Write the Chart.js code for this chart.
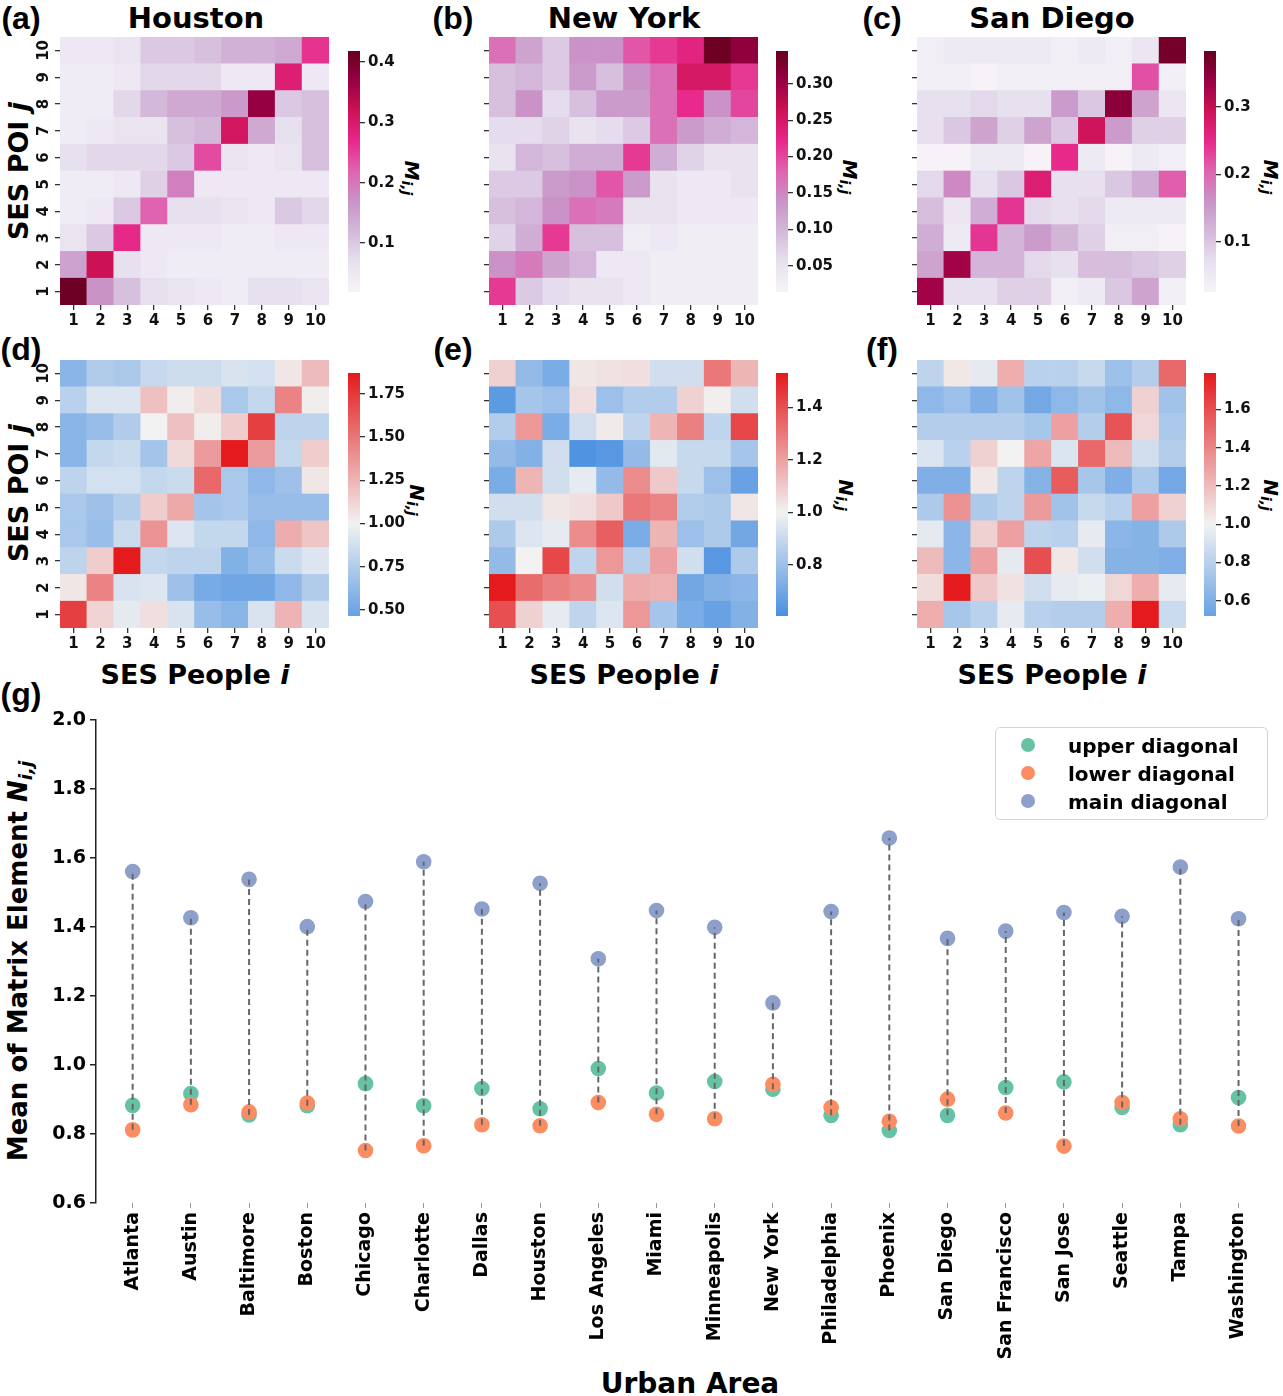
<!DOCTYPE html>
<html><head><meta charset="utf-8">
<script src="https://cdn.jsdelivr.net/npm/chart.js@4.4.1/dist/chart.umd.min.js"></script>
<style>
body{margin:0;background:#fff;width:1283px;height:1396px;position:relative;overflow:hidden;font-family:'DejaVu Sans',sans-serif;}
canvas{position:absolute;}
.t{position:absolute;font-weight:bold;color:#000;white-space:nowrap;line-height:1;}
.c{transform:translate(-50%,-50%);}
.r{transform:translate(-50%,-50%) rotate(-90deg);}
.rc{transform:translate(-50%,-50%) rotate(90deg);}
.lbl{font-family:'Liberation Sans',Arial,sans-serif;font-size:32px;}
.ttl{font-size:29px;}
.ax{font-size:27px;}
.cb{font-size:20px;font-style:italic;}
sub{font-size:0.7em;vertical-align:-0.25em;}
#legend{position:absolute;left:995px;top:727px;width:273px;height:93px;border:1px solid #d4d4d4;border-radius:5px;box-sizing:border-box;background:rgba(255,255,255,0.8);}
.li{position:absolute;left:0;height:28px;width:100%;font-weight:bold;font-size:20px;}
.li span.m{position:absolute;left:25px;top:7px;width:14px;height:14px;border-radius:50%;}
.li span.x{position:absolute;left:72px;top:3px;}
</style></head><body>

<div class="t lbl c" style="left:21px;top:18px">(a)</div>
<div class="t lbl c" style="left:453px;top:18px">(b)</div>
<div class="t lbl c" style="left:882px;top:18px">(c)</div>
<div class="t lbl c" style="left:21px;top:349px">(d)</div>
<div class="t lbl c" style="left:453px;top:349px">(e)</div>
<div class="t lbl c" style="left:882px;top:349px">(f)</div>
<div class="t lbl c" style="left:21px;top:694px">(g)</div>

<div class="t ttl c" style="left:196px;top:18px">Houston</div>
<div class="t ttl c" style="left:624px;top:18px">New York</div>
<div class="t ttl c" style="left:1052px;top:18px">San Diego</div>

<div class="t ax r" style="left:18px;top:171px">SES POI <i>j</i></div>
<div class="t ax r" style="left:18px;top:493px">SES POI <i>j</i></div>
<div class="t ax c" style="left:195px;top:674px">SES People <i>i</i></div>
<div class="t ax c" style="left:624px;top:674px">SES People <i>i</i></div>
<div class="t ax c" style="left:1052px;top:674px">SES People <i>i</i></div>

<div class="t cb rc" style="left:411px;top:178px">M<sub>i,j</sub></div>
<div class="t cb rc" style="left:849px;top:177px">M<sub>i,j</sub></div>
<div class="t cb rc" style="left:1270px;top:177px">M<sub>i,j</sub></div>
<div class="t cb rc" style="left:416px;top:500px">N<sub>i,j</sub></div>
<div class="t cb rc" style="left:845px;top:495px">N<sub>i,j</sub></div>
<div class="t cb rc" style="left:1270px;top:495px">N<sub>i,j</sub></div>

<div class="t r" style="left:20px;top:961px;font-size:26px">Mean of Matrix Element <i>N</i><sub><i>i,j</i></sub></div>
<div class="t c" style="left:690px;top:1384px;font-size:28px">Urban Area</div>

<script>
// ---------- data ----------
const levels = ['1','2','3','4','5','6','7','8','9','10'];

// matrices: rows j = 1..10 (SES POI), columns i = 1..10 (SES People)
const houstonM = [
 [0.41,0.17,0.11,0.07,0.06,0.05,0.04,0.07,0.07,0.06],
 [0.15,0.32,0.07,0.05,0.04,0.04,0.04,0.04,0.04,0.04],
 [0.06,0.10,0.27,0.05,0.05,0.05,0.04,0.04,0.05,0.05],
 [0.04,0.05,0.10,0.22,0.07,0.07,0.06,0.05,0.10,0.08],
 [0.04,0.04,0.05,0.09,0.19,0.05,0.05,0.05,0.05,0.05],
 [0.07,0.08,0.08,0.08,0.10,0.24,0.06,0.05,0.06,0.11],
 [0.04,0.05,0.06,0.06,0.11,0.12,0.31,0.14,0.07,0.11],
 [0.04,0.04,0.08,0.12,0.14,0.14,0.16,0.37,0.10,0.11],
 [0.04,0.04,0.05,0.08,0.08,0.08,0.05,0.05,0.29,0.05],
 [0.05,0.05,0.06,0.10,0.10,0.11,0.13,0.13,0.14,0.26]
];
const newYorkM = [
 [0.21,0.08,0.06,0.05,0.05,0.04,0.03,0.03,0.03,0.03],
 [0.14,0.16,0.12,0.10,0.04,0.04,0.03,0.03,0.03,0.03],
 [0.07,0.11,0.21,0.09,0.09,0.03,0.04,0.03,0.03,0.03],
 [0.09,0.10,0.14,0.17,0.16,0.05,0.05,0.04,0.04,0.04],
 [0.08,0.08,0.13,0.14,0.19,0.13,0.05,0.04,0.04,0.05],
 [0.05,0.10,0.09,0.11,0.11,0.21,0.11,0.07,0.05,0.05],
 [0.06,0.06,0.07,0.05,0.06,0.08,0.17,0.13,0.11,0.10],
 [0.09,0.14,0.06,0.09,0.13,0.13,0.17,0.22,0.14,0.20],
 [0.09,0.10,0.08,0.13,0.09,0.14,0.17,0.25,0.25,0.21],
 [0.17,0.12,0.08,0.14,0.14,0.19,0.21,0.23,0.34,0.31]
];
const sanDiegoM = [
 [0.33,0.07,0.07,0.09,0.09,0.04,0.05,0.10,0.14,0.04],
 [0.14,0.33,0.12,0.12,0.08,0.07,0.11,0.11,0.10,0.09],
 [0.13,0.05,0.24,0.12,0.15,0.12,0.09,0.04,0.04,0.03],
 [0.11,0.06,0.13,0.24,0.08,0.07,0.08,0.05,0.05,0.05],
 [0.08,0.17,0.07,0.10,0.27,0.07,0.07,0.10,0.13,0.21],
 [0.03,0.03,0.05,0.05,0.03,0.25,0.05,0.03,0.05,0.04],
 [0.07,0.10,0.14,0.09,0.14,0.10,0.29,0.15,0.09,0.09],
 [0.07,0.07,0.08,0.07,0.07,0.15,0.10,0.35,0.14,0.06],
 [0.04,0.04,0.03,0.04,0.04,0.04,0.04,0.04,0.22,0.04],
 [0.04,0.05,0.05,0.05,0.05,0.04,0.05,0.04,0.06,0.37]
];
const houstonN = [
 [1.72,1.12,0.95,1.08,0.90,0.65,0.60,0.90,1.25,0.90],
 [1.05,1.45,0.90,0.92,0.68,0.53,0.50,0.50,0.62,0.75],
 [0.80,1.15,1.87,0.82,0.80,0.80,0.57,0.65,0.85,0.92],
 [0.72,0.66,0.85,1.38,0.92,0.82,0.82,0.62,1.28,1.18],
 [0.72,0.68,0.76,1.15,1.30,0.70,0.72,0.65,0.65,0.65],
 [0.80,0.88,0.88,0.82,0.85,1.55,0.72,0.62,0.68,1.05],
 [0.60,0.82,0.85,0.70,1.10,1.35,1.87,1.35,0.82,1.15],
 [0.60,0.65,0.75,1.00,1.20,1.02,1.15,1.72,0.80,0.80],
 [0.78,0.92,0.92,1.20,1.02,1.10,0.72,0.82,1.45,1.02],
 [0.60,0.75,0.72,0.83,0.86,0.86,0.90,0.88,1.05,1.22]
];
const newYorkN = [
 [1.40,1.08,0.97,0.88,0.95,1.22,0.82,0.72,0.68,0.74],
 [1.53,1.33,1.28,1.25,0.92,1.17,1.16,0.70,0.74,0.76],
 [0.78,1.00,1.42,0.88,1.22,0.86,1.20,0.92,0.64,0.84],
 [0.84,0.95,0.97,1.25,1.36,0.72,1.15,0.80,0.84,0.70],
 [0.92,0.92,1.03,1.05,1.10,1.30,1.27,0.85,0.84,1.03],
 [0.72,1.15,0.92,0.97,0.78,1.25,1.10,0.90,0.80,0.68],
 [0.78,0.74,0.92,0.62,0.64,0.78,0.96,0.90,0.90,0.82],
 [0.85,1.22,0.72,0.92,1.02,0.88,1.15,1.28,0.88,1.42],
 [0.65,0.82,0.80,1.05,0.80,0.85,0.85,1.08,1.01,0.92],
 [1.08,0.78,0.72,1.03,1.04,1.05,0.92,0.92,1.30,1.15]
];
const sanDiegoN = [
 [1.25,0.74,0.80,0.96,0.80,0.78,0.78,1.25,1.79,0.86],
 [1.08,1.79,1.15,1.06,0.88,0.96,0.98,1.10,1.25,0.96],
 [1.20,0.64,1.30,0.95,1.60,1.04,0.88,0.62,0.62,0.60],
 [0.95,0.64,1.12,1.30,0.82,0.80,0.96,0.64,0.62,0.76],
 [0.76,1.35,0.76,0.82,1.32,0.72,0.85,0.80,1.30,1.12],
 [0.60,0.60,1.04,0.82,0.62,1.55,0.74,0.60,0.76,0.56],
 [0.92,0.80,1.12,1.00,1.28,0.92,1.50,1.20,0.88,0.78],
 [0.78,0.78,0.78,0.78,0.74,1.30,0.78,1.58,1.10,0.75],
 [0.65,0.70,0.60,0.72,0.56,0.65,0.72,0.65,1.12,0.72],
 [0.82,1.04,0.95,1.25,0.80,0.80,0.85,0.70,0.78,1.50]
];

// colour-bar limits and tick labels
const houstonMRange = [0.019, 0.418];
const newYorkMRange = [0.014, 0.345];
const sanDiegoMRange = [0.026, 0.383];
const houstonNRange = [0.465, 1.87];
const newYorkNRange = [0.606, 1.53];
const sanDiegoNRange = [0.52, 1.79];
const houstonMTicks = ['0.1','0.2','0.3','0.4'];
const newYorkMTicks = ['0.05','0.10','0.15','0.20','0.25','0.30'];
const sanDiegoMTicks = ['0.1','0.2','0.3'];
const houstonNTicks = ['0.50','0.75','1.00','1.25','1.50','1.75'];
const newYorkNTicks = ['0.8','1.0','1.2','1.4'];
const sanDiegoNTicks = ['0.6','0.8','1.0','1.2','1.4','1.6'];

// panel (g)
const cities = ['Atlanta','Austin','Baltimore','Boston','Chicago','Charlotte','Dallas','Houston','Los Angeles','Miami','Minneapolis','New York','Philadelphia','Phoenix','San Diego','San Francisco','San Jose','Seattle','Tampa','Washington'];
const upperDiag = [0.883,0.917,0.855,0.882,0.946,0.882,0.932,0.873,0.990,0.919,0.952,0.930,0.854,0.810,0.854,0.935,0.951,0.877,0.827,0.906];
const lowerDiag = [0.812,0.885,0.864,0.890,0.752,0.766,0.827,0.824,0.891,0.857,0.844,0.944,0.877,0.837,0.901,0.861,0.765,0.891,0.844,0.823];
const mainDiag  = [1.561,1.427,1.538,1.401,1.474,1.589,1.452,1.527,1.308,1.448,1.399,1.180,1.445,1.658,1.367,1.388,1.442,1.431,1.574,1.424];
const yTicksG = ['0.6','0.8','1.0','1.2','1.4','1.6','1.8','2.0'];
const seriesNames = ['upper diagonal','lower diagonal','main diagonal'];
const seriesColors = ['#66c2a5','#fc8d62','#8da0cb'];

// ---------- colour maps ----------
const PURD = [[247,244,249],[231,225,239],[212,185,218],[201,148,199],[223,101,176],[231,41,138],[206,18,86],[152,0,67],[103,0,31]];
const DIV = [[15,110,218],[242,242,242],[228,26,28]];
function interp(stops, f){
  f = Math.max(0, Math.min(1, f));
  const n = stops.length - 1, p = f * n, i = Math.min(Math.floor(p), n - 1), t = p - i;
  const a = stops[i], b = stops[i+1];
  return 'rgb(' + a.map((v,k)=>Math.round(v + (b[k]-v)*t)).join(',') + ')';
}
function purd(v, r){ return interp(PURD, (v - r[0]) / (r[1] - r[0])); }
function diverge(v, r){ const vr = Math.max(r[1]-1, 1-r[0]); return interp(DIV, (v - (1 - vr)) / (2 * vr)); }

// ---------- helpers ----------
Chart.defaults.font.family = "'DejaVu Sans', sans-serif";
Chart.defaults.font.weight = 'bold';
Chart.defaults.color = '#000';
function mk(left, top, w, h){
  const c = document.createElement('canvas');
  c.width = w; c.height = h;
  c.style.left = left + 'px'; c.style.top = top + 'px';
  c.style.width = w + 'px'; c.style.height = h + 'px';
  document.body.appendChild(c);
  return c;
}
const TICKFONT = {size:15, weight:'bold'};

function heatmap(areaLeft, areaTop, matrix, colorFn, range, showY){
  const cv = mk(areaLeft - 40, areaTop - 12, 40 + 269 + 6, 12 + 268 + 30);
  new Chart(cv, {
    type: 'bar',
    data: {
      labels: levels,
      datasets: matrix.map((row, j) => ({
        label: levels[j],
        data: row.map(() => 1),
        backgroundColor: row.map(v => colorFn(v, range)),
        borderWidth: 0, barPercentage: 1, categoryPercentage: 1
      }))
    },
    options: {
      responsive: false, animation: false, events: [],
      layout: {padding: {top: 12, right: 6, left: 0, bottom: 0}},
      plugins: {legend: {display: false}, tooltip: {enabled: false}},
      scales: {
        x: {stacked: true,
            grid: {offset: false, drawOnChartArea: false, tickLength: 5, color: '#333', lineWidth: 1.3},
            border: {display: false},
            ticks: {font: TICKFONT, color: '#111', padding: 2, maxRotation: 0},
            afterFit(s){ s.height = 30; }},
        y: {stacked: true, min: 0, max: 10,
            grid: {drawOnChartArea: false, tickLength: 5, color: '#333', lineWidth: 1.3},
            border: {display: false},
            afterBuildTicks(s){ s.ticks = levels.map((_, k) => ({value: k + 0.5})); },
            ticks: {font: TICKFONT, color: '#111', padding: 0, minRotation: 90, maxRotation: 90, crossAlign: 'center',
                    callback: v => showY ? levels[Math.round(v - 0.5)] : ''},
            afterFit(s){ s.width = 40; }}
      }
    }
  });
}

function colorbar(areaLeft, areaTop, areaH, range, tickLabels, colorFn){
  const cv = mk(areaLeft, areaTop - 12, 12 + 56, areaH + 24);
  new Chart(cv, {
    type: 'bar',
    data: {labels: [''], datasets: [{
      data: [[range[0], range[1]]],
      borderWidth: 0, barPercentage: 1, categoryPercentage: 1,
      backgroundColor(ctx){
        const a = ctx.chart.chartArea;
        if (!a) return '#fff';
        const g = ctx.chart.ctx.createLinearGradient(0, a.bottom, 0, a.top);
        for (let k = 0; k <= 60; k++) g.addColorStop(k / 60, colorFn(range[0] + (range[1] - range[0]) * k / 60, range));
        return g;
      }
    }]},
    options: {
      responsive: false, animation: false, events: [],
      layout: {padding: {top: 12, bottom: 12, left: 0, right: 0}},
      plugins: {legend: {display: false}, tooltip: {enabled: false}},
      scales: {
        x: {display: false},
        y: {position: 'right', min: range[0], max: range[1],
            grid: {drawOnChartArea: false, tickLength: 5, color: '#333', lineWidth: 1.3},
            border: {display: false},
            afterBuildTicks(s){ s.ticks = tickLabels.map(t => ({value: parseFloat(t)})); },
            ticks: {font: TICKFONT, color: '#111', padding: 3,
                    callback: (v, i) => tickLabels[i]},
            afterFit(s){ s.width = 56; }}
      }
    }
  });
}

heatmap(60, 37, houstonM, purd, houstonMRange, true);
heatmap(489, 37, newYorkM, purd, newYorkMRange, false);
heatmap(917, 37, sanDiegoM, purd, sanDiegoMRange, false);
heatmap(60, 360, houstonN, diverge, houstonNRange, true);
heatmap(489, 360, newYorkN, diverge, newYorkNRange, false);
heatmap(917, 360, sanDiegoN, diverge, sanDiegoNRange, false);

colorbar(348, 51, 241, houstonMRange, houstonMTicks, purd);
colorbar(776, 51, 241, newYorkMRange, newYorkMTicks, purd);
colorbar(1204, 51, 241, sanDiegoMRange, sanDiegoMTicks, purd);
colorbar(348, 373, 243, houstonNRange, houstonNTicks, diverge);
colorbar(776, 373, 243, newYorkNRange, newYorkNTicks, diverge);
colorbar(1204, 373, 243, sanDiegoNRange, sanDiegoNTicks, diverge);

// ---------- panel (g) ----------
const segs = [];
cities.forEach((c, i) => {
  const vals = [upperDiag[i], lowerDiag[i], mainDiag[i]];
  segs.push({x: i, y: Math.min(...vals)}, {x: i, y: Math.max(...vals)}, {x: i, y: null});
});
const seriesData = [upperDiag, lowerDiag, mainDiag];
const gCv = mk(40, 700, 1243, 690);
new Chart(gCv, {
  type: 'scatter',
  data: {datasets: [
    ...seriesData.map((arr, k) => ({
      label: seriesNames[k],
      data: arr.map((y, i) => ({x: i, y})),
      pointBackgroundColor: seriesColors[k], backgroundColor: seriesColors[k],
      pointRadius: 7.8, pointBorderWidth: 0, order: 3 - k
    })),
    {label: 'range', data: segs, showLine: true, spanGaps: false,
     borderColor: '#666666', borderWidth: 2, borderDash: [6, 4], pointRadius: 0, order: 0}
  ]},
  options: {
    responsive: false, animation: false, events: [],
    layout: {padding: {top: 20, right: 1, left: 0, bottom: 0}},
    plugins: {legend: {display: false}, tooltip: {enabled: false}},
    scales: {
      x: {type: 'linear', min: -0.63, max: 19.63,
          afterBuildTicks(s){ s.ticks = cities.map((_, i) => ({value: i})); },
          ticks: {callback: v => cities[v], minRotation: 90, maxRotation: 90, autoSkip: false,
                  font: {size: 19, weight: 'bold'}, color: '#000', padding: 4},
          grid: {drawOnChartArea: false, tickLength: 5, color: '#999', lineWidth: 1},
          border: {display: false},
          afterFit(s){ s.height = 187; }},
      y: {min: 0.6, max: 2.0,
          afterBuildTicks(s){ s.ticks = yTicksG.map(t => ({value: parseFloat(t)})); },
          ticks: {callback: (v, i) => yTicksG[i], font: {size: 19, weight: 'bold'}, color: '#000', padding: 4},
          grid: {drawOnChartArea: false, tickLength: 6, color: '#222', lineWidth: 1.5},
          border: {display: true, color: '#222', width: 1.5},
          afterFit(s){ s.width = 56; }}
    }
  }
});

// legend (HTML, built from the series arrays)
const lg = document.createElement('div');
lg.id = 'legend';
seriesNames.forEach((n, k) => {
  const row = document.createElement('div');
  row.className = 'li';
  row.style.top = (3 + 28 * k) + 'px';
  row.innerHTML = '<span class="m" style="background:' + seriesColors[k] + '"></span><span class="x">' + n + '</span>';
  lg.appendChild(row);
});
document.body.appendChild(lg);
</script>
</body></html>
